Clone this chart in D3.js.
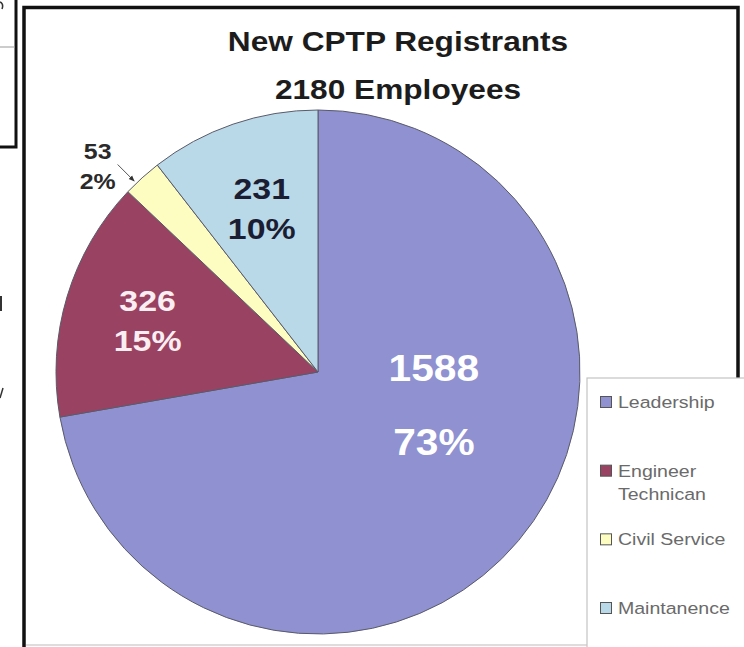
<!DOCTYPE html>
<html>
<head>
<meta charset="utf-8">
<script src="https://cdn.jsdelivr.net/npm/d3@7/dist/d3.min.js"></script>
<style>
  html, body { margin: 0; padding: 0; background: #fff; }
  svg { display: block; font-family: "Liberation Sans", Arial, sans-serif; }
</style>
</head>
<body>
<svg id="chart" width="744" height="647"></svg>
<script>
// chart data
const categories = ["Leadership", "Engineer Technican", "Civil Service", "Maintanence"];
const counts = [1588, 326, 53, 231];
const percents = ["73%", "15%", "2%", "10%"];
const colors = ["#8f91d0", "#9a4262", "#fdfdc2", "#b9d9e8"];
const titleLines = ["New CPTP Registrants", "2180 Employees"];

const W = 744, H = 647;
const cx = 318, cy = 372, R = 262;

const svg = d3.select("#chart");

// white page + cropped edge of the neighbouring figure on the left
svg.append("rect").attr("width", W).attr("height", H).attr("fill", "#fff");
svg.append("rect")
  .attr("x", -6).attr("y", -6).attr("width", 22).attr("height", 153)
  .attr("fill", "none").attr("stroke", "#111").attr("stroke-width", 3);
svg.append("line")
  .attr("x1", 0).attr("x2", 15).attr("y1", 47).attr("y2", 47)
  .attr("stroke", "#999").attr("stroke-width", 1);
// slivers of letters cut by the crop (drawn as marks, not readable text)
svg.append("path").attr("d", "M0,2 Q4,4 2,9").attr("fill", "none")
  .attr("stroke", "#333").attr("stroke-width", 1.5);
svg.append("rect").attr("x", 0).attr("y", 296).attr("width", 2).attr("height", 15).attr("fill", "#333");
svg.append("path").attr("d", "M0,398 L3,388").attr("stroke", "#333").attr("stroke-width", 1.5);

// main frame
svg.append("line")
  .attr("x1", 26).attr("x2", W).attr("y1", 645).attr("y2", 645)
  .attr("stroke", "#bbb").attr("stroke-width", 1);
svg.append("rect")
  .attr("x", 24).attr("y", 7.5).attr("width", 714).attr("height", 700)
  .attr("fill", "none").attr("stroke", "#111").attr("stroke-width", 3.5);

// title
const stretch = 1.13;
svg.append("g").selectAll("text")
  .data(titleLines)
  .join("text")
  .attr("transform", (d, i) => `translate(398,${51 + i * 48}) scale(${stretch},1)`)
  .attr("text-anchor", "middle")
  .attr("font-size", 28)
  .attr("font-weight", "bold")
  .attr("fill", "#1c1c1c")
  .text(d => d);

// pie
const pie = d3.pie().sort(null).value(d => d);
const arcs = pie(counts);
const arc = d3.arc().innerRadius(0).outerRadius(R);

const g = svg.append("g").attr("transform", `translate(${cx},${cy})`);

g.selectAll("path.slice")
  .data(arcs)
  .join("path")
  .attr("class", "slice")
  .attr("d", arc)
  .attr("fill", (d, i) => colors[i])
  .attr("stroke", "#5a5a6a")
  .attr("stroke-width", 1);

// label placement: [angle in degrees clockwise from top, fraction of radius]
const labelPlace = [[106, 0.46], [287, 0.68], [313, 1.15], [341, 0.66]];
const labelSize = [36, 30, 22, 30];
const labelGap = [74, 40, 30, 40];
const labelFill = ["#ffffff", "#fbeef2", "#2a2a2a", "#1b1d33"];

const labelPos = i => {
  const a = labelPlace[i][0] * Math.PI / 180;
  const r = labelPlace[i][1] * R;
  return [r * Math.sin(a), -r * Math.cos(a)];
};

arcs.forEach((d, i) => {
  const [lx, ly] = labelPos(i);
  const lines = [String(counts[i]), percents[i]];
  g.append("g").selectAll("text")
    .data(lines)
    .join("text")
    .attr("transform", (t, j) => {
      const y = ly + (j - 0.5) * labelGap[i] + labelSize[i] * 0.36;
      return `translate(${lx},${y}) scale(${stretch},1)`;
    })
    .attr("text-anchor", "middle")
    .attr("font-size", labelSize[i])
    .attr("font-weight", "bold")
    .attr("fill", labelFill[i])
    .text(t => t);
});

// leader line for the small Civil Service slice
const civ = arcs[2];
const civA = civ.startAngle + (civ.endAngle - civ.startAngle) * 0.3;
const tip = [(R + 3) * Math.sin(civA), -(R + 3) * Math.cos(civA)];
const civLabel = labelPos(2);
const start = [civLabel[0] + 20, civLabel[1] - 2];
svg.append("defs").append("marker")
  .attr("id", "arrow")
  .attr("viewBox", "0 0 10 10")
  .attr("refX", 9).attr("refY", 5)
  .attr("markerWidth", 6).attr("markerHeight", 6)
  .attr("orient", "auto")
  .append("path").attr("d", "M0,1 L10,5 L0,9 Z").attr("fill", "#333");
g.append("line")
  .attr("x1", start[0]).attr("y1", start[1])
  .attr("x2", tip[0]).attr("y2", tip[1])
  .attr("stroke", "#555").attr("stroke-width", 1)
  .attr("marker-end", "url(#arrow)");

// legend
const legendLines = categories.map(c => c === "Engineer Technican" ? ["Engineer", "Technican"] : [c]);
svg.append("rect")
  .attr("x", 587).attr("y", 378).attr("width", 200).attr("height", 400)
  .attr("fill", "#fff").attr("stroke", "#c4c4c4").attr("stroke-width", 1.2);

const ly = d3.scalePoint().domain(categories).range([402, 608]);
const legend = svg.append("g").selectAll("g")
  .data(categories)
  .join("g")
  .attr("transform", d => `translate(600,${ly(d)})`);

legend.append("rect")
  .attr("x", 0.5).attr("y", -5.5).attr("width", 11).attr("height", 11)
  .attr("fill", (d, i) => colors[i])
  .attr("stroke", "#555").attr("stroke-width", 1);

legend.each(function (d, i) {
  d3.select(this).selectAll("text")
    .data(legendLines[i])
    .join("text")
    .attr("transform", (t, j) => `translate(18,${6 + j * 23}) scale(1.15,1)`)
    .attr("font-size", 17)
    .attr("fill", "#6a6a6a")
    .text(t => t);
});
</script>
</body>
</html>
